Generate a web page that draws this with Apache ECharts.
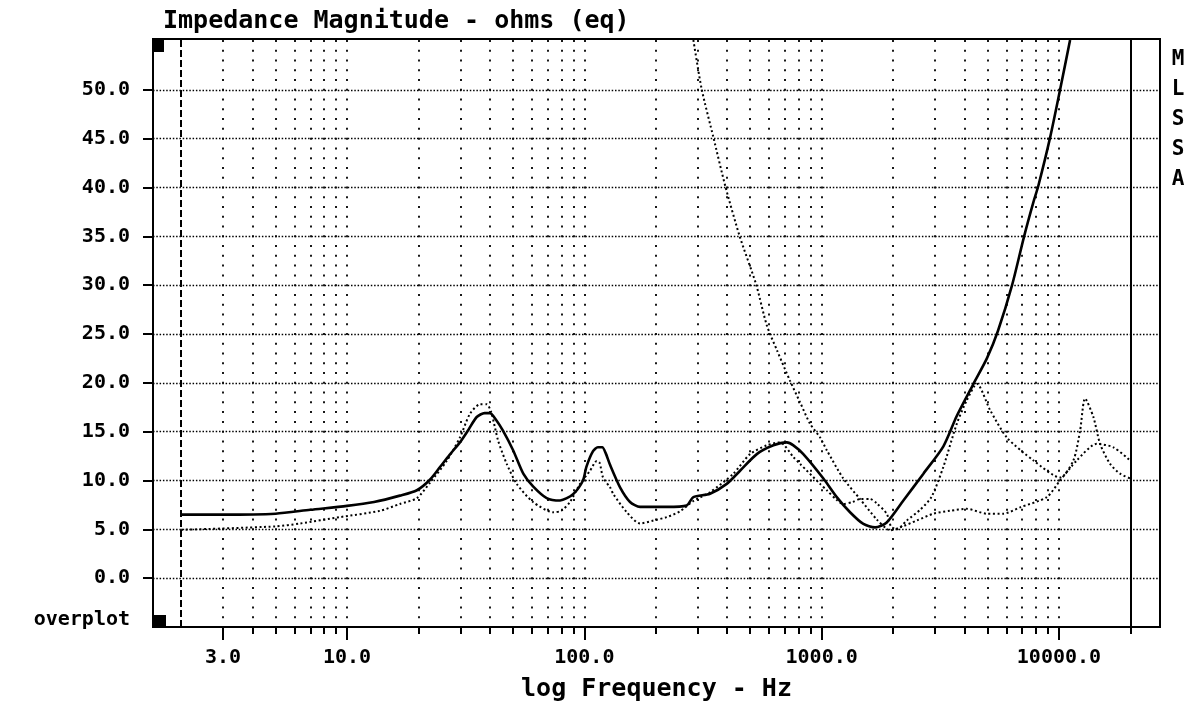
<!DOCTYPE html>
<html><head><meta charset="utf-8">
<script src="https://cdn.jsdelivr.net/npm/echarts@6/dist/echarts.min.js"></script>
<style>html,body{margin:0;padding:0;background:#fff}#c{width:1188px;height:708px}</style>
</head><body><div id="c"></div>
<script>
const FONT = 'DejaVu Sans Mono';

// Solid curve (measured impedance)
const freqA = [2, 3, 5, 7, 10, 13, 16.7, 19.7, 22.4, 24.7, 27, 29.9, 32.5, 35.2, 38, 40, 42.5, 45.4, 50.1, 55.3, 60.8, 69.4, 79, 89.6, 98.7, 102, 108.8, 114, 119, 123, 128.3, 141.4, 155.8, 171.7, 200, 222.5, 270, 288, 338.6, 398, 453, 533, 626, 713, 760, 837, 1017, 1158, 1317, 1499, 1679, 1880, 2210, 2684, 3258, 3709, 4363, 4968, 5530, 6344, 7130, 7803, 8191, 9173, 10107, 11138];
const valsA = [6.5, 6.5, 6.6, 7.0, 7.4, 7.8, 8.45, 9.0, 10.1, 11.4, 12.6, 13.9, 15.2, 16.5, 16.9, 16.9, 16.2, 15.1, 13.1, 10.7, 9.4, 8.2, 7.95, 8.6, 10.0, 11.4, 13.0, 13.4, 13.4, 12.8, 11.6, 9.3, 7.8, 7.3, 7.3, 7.3, 7.45, 8.3, 8.65, 9.65, 11.0, 12.7, 13.6, 13.9, 13.6, 12.7, 10.2, 8.3, 6.75, 5.55, 5.2, 5.7, 7.95, 10.7, 13.5, 16.6, 19.9, 22.5, 25.3, 30.0, 35.0, 38.5, 40.2, 45.1, 50.0, 55.1];

// Dotted curve B (overplot, follows the solid one)
const freqB = [2, 5, 6.34, 9.34, 13.8, 16.7, 19.7, 22.4, 26.3, 29.9, 33, 36.4, 38.8, 40.5, 43.3, 47.1, 51.9, 60.8, 74, 80, 87, 95.9, 105.7, 112.8, 116, 119.9, 128.3, 132.5, 150.9, 171.7, 195.4, 222.5, 253, 288, 338.6, 424.6, 499, 587, 668, 760, 811, 985, 1051, 1158, 1234, 1350, 1451, 1600, 1700, 1880, 1960, 2080, 2284, 2600, 2900, 3258, 3709, 4088, 4508, 5129, 6031, 7803, 10107, 11500, 12274, 12882, 13964, 14901, 16422, 18093, 20000];
const valsB = [4.95, 5.3, 5.6, 6.25, 6.9, 7.6, 8.2, 9.8, 12.0, 14.4, 16.85, 17.8, 17.8, 17.0, 14.1, 11.7, 9.65, 7.8, 6.75, 6.9, 7.8, 9.65, 11.0, 12.0, 11.8, 10.3, 9.3, 8.6, 6.75, 5.6, 5.9, 6.25, 6.85, 7.9, 8.8, 10.7, 12.7, 13.6, 13.9, 12.4, 11.7, 9.65, 9.0, 8.0, 7.6, 7.8, 8.1, 8.1, 7.7, 6.6, 5.3, 5.0, 5.9, 7.0, 8.3, 11.4, 15.8, 18.2, 19.9, 17.2, 14.4, 12.05, 10.3, 12.05, 15.1, 18.4, 16.5, 13.75, 11.7, 10.7, 10.2];

// Dotted curve C (descending from the top)
const freqC = [288, 312, 350, 392, 450, 529, 587, 649, 736, 811, 894, 985, 1051, 1234, 1451, 1707, 1880, 1942, 2140, 2517, 2956, 3476, 4088, 4968, 5836, 6858, 8883, 10107, 11885, 14431, 16956, 19938];
const valsC = [55.1, 50.1, 45.1, 40.2, 35.1, 30.1, 25.9, 23.3, 20.2, 18.0, 15.8, 14.4, 13.1, 10.2, 8.1, 6.0, 5.05, 4.9, 5.2, 5.9, 6.6, 6.9, 7.1, 6.6, 6.6, 7.25, 8.3, 10.0, 12.05, 13.75, 13.4, 12.05];

// Axis ticks and labels
const xLabelValues = [3, 10, 100, 1000, 10000];
const xMajorTicks = [3, 10, 100, 1000, 10000];
const xMinorTicks = [4, 5, 6, 7, 8, 9, 20, 30, 40, 50, 60, 70, 80, 90, 200, 300, 400, 500, 600, 700, 800, 900, 2000, 3000, 4000, 5000, 6000, 7000, 8000, 9000, 20000];
const yTickValues = [0, 5, 10, 15, 20, 25, 30, 35, 40, 45, 50];
const axisStart = 2, axisEnd = 20000;

const pairs = (f, v) => f.map((x, i) => [x, v[i]]);
const txt = (size) => ({ fontFamily: FONT, fontWeight: 'bold', fontSize: size, color: '#000' });
const dotV = { color: '#000', width: 1.8, type: [2, 7.767], dashOffset: 8.8 };

const chart = echarts.init(document.getElementById('c'), null, { renderer: 'canvas' });
chart.setOption({
  animation: false,
  backgroundColor: '#fff',
  title: { text: 'Impedance Magnitude - ohms (eq)', left: 158, top: 4, textStyle: txt(25) },
  grid: { left: 153, top: 39, width: 1007, height: 588 },
  xAxis: [
    {
      type: 'log', min: 1.522, max: 26650, position: 'bottom',
      name: 'log Frequency - Hz', nameLocation: 'middle', nameGap: 50, nameTextStyle: txt(25),
      axisLine: { show: false, onZero: false },
      axisTick: { show: true, inside: false, customValues: xMajorTicks, length: 13, lineStyle: { color: '#000', width: 2 } },
      axisLabel: { customValues: xLabelValues, formatter: v => Number(v).toFixed(1), margin: 21, ...txt(20) },
      splitLine: { show: true, lineStyle: dotV }
    },
    {
      type: 'log', min: 1.522, max: 26650, position: 'bottom',
      axisLine: { show: false, onZero: false },
      axisTick: { show: true, inside: false, customValues: xMinorTicks, length: 7, lineStyle: { color: '#000', width: 2 } },
      axisLabel: { show: false },
      splitLine: { show: true, lineStyle: dotV }
    }
  ],
  yAxis: {
    type: 'value', min: -5, max: 55.2,
    axisLine: { show: false, onZero: false },
    axisTick: { show: true, inside: false, customValues: yTickValues, length: 10, lineStyle: { color: '#000', width: 2 } },
    axisLabel: { customValues: yTickValues, formatter: v => Number(v).toFixed(1), margin: 23, ...txt(20) },
    splitLine: { show: true, lineStyle: { color: '#000', width: 1.4, type: [1.5, 1.8] } }
  },
  series: [
    {
      type: 'line', xAxisIndex: 0, data: pairs(freqA, valsA), showSymbol: false, smooth: 0.25,
      lineStyle: { color: '#000', width: 2.6 }, z: 5,
      markLine: {
        silent: true, symbol: ['none', 'none'], label: { show: false }, animation: false,
        data: [
          { xAxis: axisStart, lineStyle: { color: '#000', width: 2, type: [7, 3] } },
          { xAxis: axisEnd, lineStyle: { color: '#000', width: 2, type: 'solid' } }
        ]
      }
    },
    {
      type: 'line', xAxisIndex: 0, data: pairs(freqB, valsB), showSymbol: false, smooth: 0.25,
      lineStyle: { color: '#000', width: 2, type: [2, 2.6] }, z: 4
    },
    {
      type: 'line', xAxisIndex: 0, data: pairs(freqC, valsC), showSymbol: false, smooth: 0.25,
      lineStyle: { color: '#000', width: 2, type: [2, 2.6] }, z: 4
    }
  ],
  graphic: [
    { type: 'rect', shape: { x: 153, y: 39, width: 1007, height: 588 }, style: { fill: 'none', stroke: '#000', lineWidth: 2 }, z: 10 },
    { type: 'rect', shape: { x: 152, y: 39, width: 12, height: 13 }, style: { fill: '#000' }, z: 11 },
    { type: 'rect', shape: { x: 154, y: 615, width: 12, height: 12 }, style: { fill: '#000' }, z: 11 },
    { type: 'text', style: { text: 'overplot', x: 130, y: 630, align: 'right', verticalAlign: 'bottom', font: 'bold 20px "DejaVu Sans Mono"', fill: '#000' }, z: 11 },
    { type: 'text', style: { text: 'M\nL\nS\nS\nA', x: 1178, y: 45, align: 'center', verticalAlign: 'top', lineHeight: 30, font: 'bold 21px "DejaVu Sans Mono"', fill: '#000' }, z: 11 }
  ]
});
</script></body></html>
